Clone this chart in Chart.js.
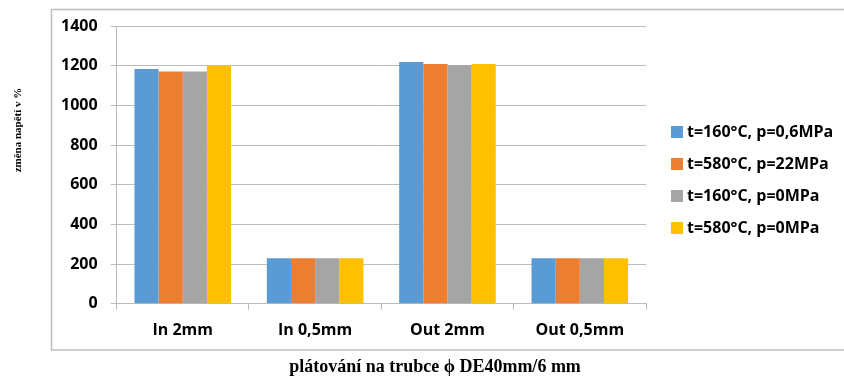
<!DOCTYPE html>
<html>
<head>
<meta charset="utf-8">
<script src="https://cdn.jsdelivr.net/npm/chart.js@4/dist/chart.umd.min.js"></script>
<style>
  html, body { margin: 0; padding: 0; background: #ffffff; }
  #wrap { width: 844px; height: 380px; }
</style>
</head>
<body>
<div id="wrap"><canvas id="c" width="844" height="380"></canvas></div>
<script>
// Categories (cladding position / thickness)
const categories = ['In 2mm', 'In 0,5mm', 'Out 2mm', 'Out 0,5mm'];

// Series labels
const seriesNames = [
  't=160°C, p=0,6MPa',
  't=580°C, p=22MPa',
  't=160°C, p=0MPa',
  't=580°C, p=0MPa'
];

// Stress change values in % for each series
const s160p06 = [1183, 230, 1219, 230];
const s580p22 = [1171, 230, 1209, 230];
const s160p0  = [1171, 230, 1202, 230];
const s580p0  = [1201, 230, 1209, 230];

const seriesColors = ['#5B9BD5', '#ED7D31', '#A5A5A5', '#FFC000'];

// Y axis range and step
const yMin = 0, yMax = 1400, yStep = 200;

const yTitle = 'změna napětí v %';
const xTitle = 'plátování na trubce ϕ DE40mm/6 mm';

const gridColor = '#bcbcbc';
const tickFont = { family: 'Open Sans', size: 16, weight: 'bold' };

// Outer frame around the plot and the legend
const framePlugin = {
  id: 'frame',
  beforeDraw(chart) {
    const ctx = chart.ctx;
    ctx.save();
    ctx.fillStyle = '#ffffff';
    ctx.fillRect(0, 0, chart.width, chart.height);
    ctx.strokeStyle = '#bdbdbd';
    ctx.lineWidth = 1.5;
    ctx.strokeRect(51.5, 9.5, chart.width, 340.5);
    ctx.restore();
  }
};

// Axis titles and the side legend
const decorPlugin = {
  id: 'decor',
  afterDraw(chart) {
    const ctx = chart.ctx;
    ctx.save();
    ctx.fillStyle = '#000000';

    // vertical axis title
    ctx.font = 'bold 11px "Liberation Serif"';
    ctx.textAlign = 'center';
    ctx.textBaseline = 'middle';
    ctx.translate(18, 130);
    ctx.rotate(-Math.PI / 2);
    ctx.fillText(yTitle, 0, 0);
    ctx.setTransform(1, 0, 0, 1, 0, 0);

    // horizontal axis title
    ctx.font = 'bold 18px "Liberation Serif"';
    ctx.fillText(xTitle, 435, 367);

    // legend
    ctx.font = 'bold 16px "Open Sans"';
    ctx.textAlign = 'left';
    const boxX = 671, box = 12, rowStart = 132, rowGap = 32;
    chart.data.datasets.forEach((ds, i) => {
      const cy = rowStart + i * rowGap;
      ctx.fillStyle = ds.backgroundColor;
      ctx.fillRect(boxX, cy - box / 2, box, box);
      ctx.fillStyle = '#000000';
      ctx.fillText(ds.label, boxX + box + 4, cy);
    });
    ctx.restore();
  }
};

const seriesData = [s160p06, s580p22, s160p0, s580p0];

new Chart(document.getElementById('c'), {
  type: 'bar',
  data: {
    labels: categories,
    datasets: seriesData.map((vals, i) => ({
      label: seriesNames[i],
      data: vals,
      backgroundColor: seriesColors[i],
      borderWidth: 0,
      categoryPercentage: 0.73,
      barPercentage: 1.0
    }))
  },
  options: {
    responsive: false,
    animation: false,
    devicePixelRatio: 1,
    layout: { padding: { left: 48, right: 198, top: 26, bottom: 29 } },
    plugins: {
      legend: { display: false },
      tooltip: { enabled: false }
    },
    scales: {
      x: {
        grid: {
          display: true,
          drawOnChartArea: false,
          drawTicks: true,
          tickLength: 6,
          color: gridColor,
          offset: true
        },
        border: { display: true, color: gridColor, width: 1 },
        ticks: { color: '#000000', font: tickFont, padding: 11 }
      },
      y: {
        min: yMin,
        max: yMax,
        ticks: {
          stepSize: yStep,
          color: '#000000',
          font: tickFont,
          padding: 13,
          callback: (v) => String(v)
        },
        grid: { color: gridColor, tickLength: 6, drawTicks: true },
        border: { display: true, color: gridColor, width: 1 }
      }
    }
  },
  plugins: [framePlugin, decorPlugin]
});
</script>
</body>
</html>
